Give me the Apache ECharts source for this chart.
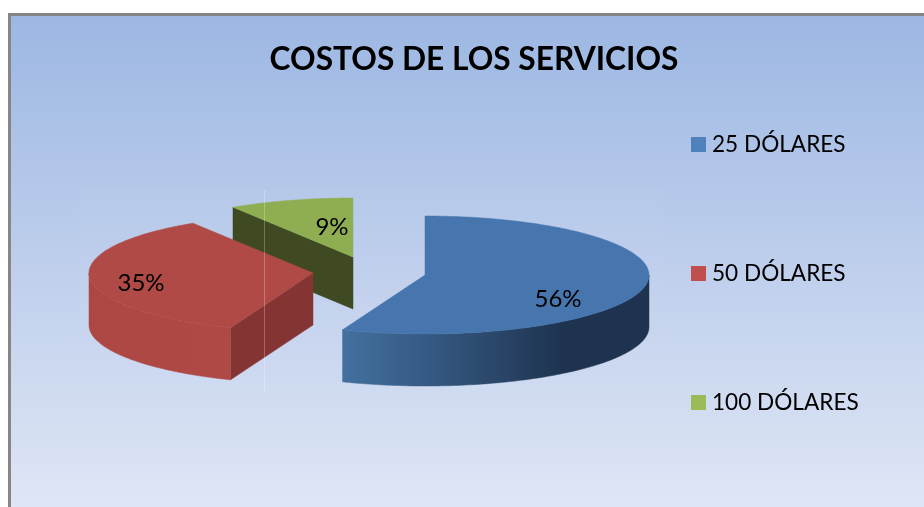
<!DOCTYPE html>
<html><head><meta charset="utf-8">
<style>html,body{margin:0;padding:0;background:#fff}#c{width:924px;height:507px}</style>
<script src="https://cdn.jsdelivr.net/npm/echarts@6/dist/echarts.min.js"></script>
</head><body><div id="c"></div>
<script>
const categories = ['25 DÓLARES', '50 DÓLARES', '100 DÓLARES'];
const values = [56, 35, 9];
const labels = ['56%', '35%', '9%'];
const legendColors = ['#4f81bd', '#c0504d', '#9bbb59'];

const RX = 224, RY = 59, DEPTH = 52;
const apexes = [[425, 275], [313, 273], [353, 257]];
const labelPos = [[558, 299], [141, 283], [332, 227]];
const topColors = ['#4776ae', '#b04a46', '#8fae52'];
const sideColors = ['#2c4a70', '#843533', '#3f4a22'];
const rimColors = [
  [[0, '#44709f'], [0.25, '#375c86'], [0.72, '#1e3350'], [1, '#1e3350']],
  [[0, '#ad4743'], [1, '#af4945']],
  [[0, '#5a6f30'], [1, '#5a6f30']]
];
const total = values.reduce((a, b) => a + b, 0);
const rad = d => d * Math.PI / 180;

function renderSlice(i, api) {
  const v = api.value(0);
  let start = 0;
  for (let k = 0; k < i; k++) start += values[k] / total * 360;
  const end = start + v / total * 360;
  const [cx, cy] = apexes[i];
  const pt = (a, dz) => [cx + RX * Math.sin(rad(a)), cy - RY * Math.cos(rad(a)) + (dz || 0)];
  const arc = (a, b, dz) => {
    const out = [], n = Math.max(2, Math.ceil(Math.abs(b - a)));
    for (let j = 0; j <= n; j++) out.push(pt(a + (b - a) * j / n, dz));
    return out;
  };
  const children = [];
  const face = (points, fill) => children.push({type: 'polygon', shape: {points}, style: {fill, stroke: fill, lineWidth: 0.5}});
  if (start > 180 && start < 360) {
    const p = pt(start);
    face([[cx, cy], p, [p[0], p[1] + DEPTH], [cx, cy + DEPTH]], sideColors[i]);
  }
  const a0 = Math.max(start, 90), a1 = Math.min(end, 270);
  if (a1 > a0) {
    const top = arc(a0, a1, 0), bot = arc(a1, a0, DEPTH);
    const stops = rimColors[i].map(s => ({offset: s[0], color: s[1]}));
    face(top.concat(bot), new echarts.graphic.LinearGradient(0, 0, 1, 0, stops));
  }
  face([[cx, cy]].concat(arc(start, end, 0)), topColors[i]);
  children.push({type: 'text', style: {
    text: labels[i], x: labelPos[i][0], y: labelPos[i][1], align: 'center', verticalAlign: 'middle',
    font: '24px Lato', fill: '#000'
  }});
  return {type: 'group', children};
}

const order = [2, 1, 0];
const option = {
  animation: false,
  title: {
    text: 'COSTOS DE LOS SERVICIOS', left: 469, top: 39, textAlign: 'center',
    textStyle: {fontFamily: 'Lato', fontWeight: 'bold', fontSize: 31.7, color: '#000'}
  },
  legend: {
    orient: 'vertical', left: 691, top: 133, padding: 0, icon: 'rect', itemWidth: 15, itemHeight: 15,
    itemGap: 106, data: categories, selectedMode: false,
    textStyle: {fontFamily: 'Lato', fontSize: 22.6, lineHeight: 15, color: '#000', padding: [0, 0, 0, 1]}
  },
  graphic: [
    {type: 'rect', z: -10, shape: {x: 9.5, y: 14.5, width: 930, height: 510},
      style: {stroke: '#868686', lineWidth: 3,
        fill: new echarts.graphic.LinearGradient(0, 0, 0, 1, [
          {offset: 0, color: '#9cb7e3'}, {offset: 0.5, color: '#bfcfec'}, {offset: 1, color: '#e1e8f6'}])}},
    {type: 'rect', z: -9, shape: {x: 78, y: 190, width: 585, height: 205},
      style: {fill: 'rgba(255,255,255,0.02)'}},
    {type: 'line', z: 100, shape: {x1: 264.5, y1: 190, x2: 264.5, y2: 393},
      style: {stroke: 'rgba(255,255,255,0.25)', lineWidth: 1}}
  ],
  series: order.map(i => ({
    type: 'custom', name: categories[i], coordinateSystem: 'none',
    itemStyle: {color: legendColors[i]},
    data: [[values[i]]],
    renderItem: (params, api) => renderSlice(i, api)
  }))
};
echarts.init(document.getElementById('c')).setOption(option);
</script></body></html>
